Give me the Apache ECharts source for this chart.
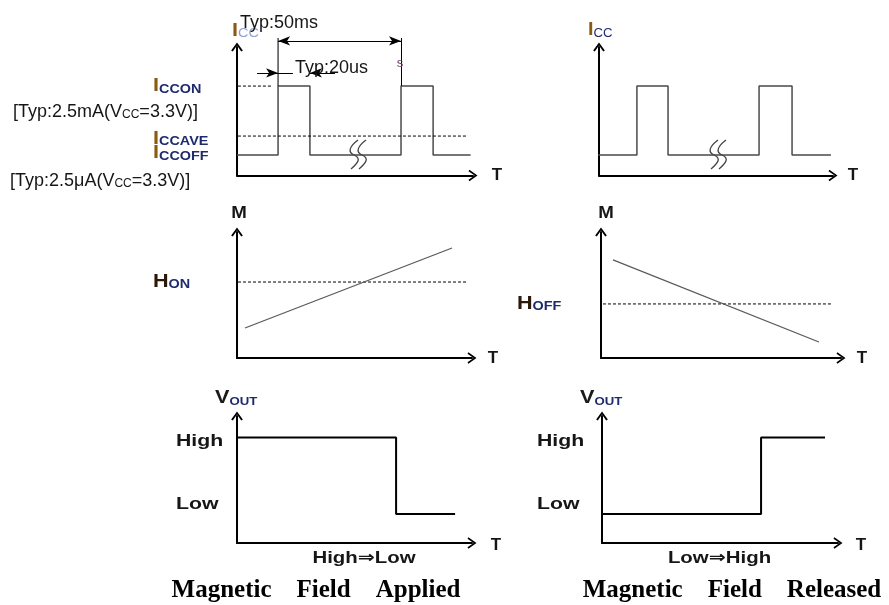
<!DOCTYPE html>
<html><head><meta charset="utf-8">
<script src="https://cdn.jsdelivr.net/npm/echarts@6/dist/echarts.min.js"></script>
<style>html,body{margin:0;padding:0;background:#fff}#c{width:889px;height:605px}</style>
</head><body><div id="c"></div>
<script>
// ---------------- DATA ----------------
// Supply current pulses (time units 0..100 along T axis, current units 0..100 along Icc axis)
const iccAppliedT  = [0, 17.4, 17.4, 30.9, 30.9, 69.5, 69.5, 83.1, 83.1, 99];
const iccReleasedT = [-0.9, 16.2, 16.2, 29.5, 29.5, 68.4, 68.4, 82.5, 82.5, 99.1];
const iccLevel     = [16, 16, 69.6, 69.6, 16, 16, 69.6, 69.6, 16, 16];
const ICC_ON = 69.6, ICC_AVE = 30.7, ICC_OFF = 16;
const refLineStartT = -10.2;          // dashed reference lines start left of axis
const iccOnDashEnd = 14.8, iccAveDashEnd = 97.9;
// timing dimensions
const periodMarks = [17.4, 69.5];     // Typ:50ms
const pulseMarks = [17.4, 30.9];      // Typ:20us
const dimTop = 107, dimPeriodLevel = 104.7, dimPulseLevel = 79.8;
const pulseArrowFrom = [8.5, 41.5], pulseLeaderEnd = 23.7;
// Magnetic flux density
const fieldAppliedT  = [3.4, 91.5];
const fieldAppliedM  = [23.8, 87.3];
const fieldReleasedT = [5, 90.8];
const fieldReleasedM = [77.8, 12.7];
const H_ON = 60.3, H_OFF = 42.9;
const hOnDash = [-10.2, 98.3], hOffDash = [-9.6, 96.3];
// Output voltage
const voutAppliedT  = [0, 67.7, 67.7, 92.8];
const voutAppliedV  = [83, 83, 22.8, 22.8];
const voutReleasedT = [0, 67.4, 67.4, 94.5];
const voutReleasedV = [22.8, 22.8, 83, 83];
// Texts
const captions = ['Magnetic    Field    Applied', 'Magnetic    Field    Released'];
const transitions = ['High\u21D2Low', 'Low\u21D2High'];

// ---------------- HELPERS ----------------
const zip = (a, b) => a.map((v, i) => [v, b[i]]);
const SANS = 'Liberation Sans, Arial, DejaVu Sans, sans-serif';
const CHEV = 'path://M0,9 L6.5,0 L13,9 L11.2,10 L6.5,3.2 L1.8,10 Z';

const grids = [
  {left: 237, top: 47,  right: 416, bottom: 429.5},
  {left: 599, top: 47,  right: 56,  bottom: 429.5},
  {left: 237, top: 232, right: 417, bottom: 247},
  {left: 601, top: 232, right: 48,  bottom: 247},
  {left: 237, top: 416, right: 417, bottom: 62},
  {left: 602, top: 416, right: 51,  bottom: 62},
  // overlay for the timing dimensions of panel 0 (same scale, taller: 0..110)
  {left: 237, top: 34.1, right: 416, bottom: 429.5}
];
const axisMax = [100, 100, 100, 100, 100, 100, 110];
function axis(i, isY) {
  const hidden = i === 6;
  return {
    gridIndex: i, type: 'value', min: 0, max: isY ? axisMax[i] : 100, show: !hidden,
    axisLine: {show: !hidden, onZero: false, symbol: ['none', CHEV], symbolSize: [13, 9],
      lineStyle: {color: '#000', width: 2}},
    axisTick: {show: false}, axisLabel: {show: false}, splitLine: {show: false}
  };
}
function line(i, data, style) {
  return {
    type: 'line', xAxisIndex: i, yAxisIndex: i, data: data, symbol: 'none', showSymbol: false,
    clip: false, silent: true, animation: false, z: 3,
    lineStyle: Object.assign({color: '#4a4a4a', width: 1.5}, style || {})
  };
}
const dash = {color: '#000', width: 1, type: [3, 2]};
const pt = (x, y, sym) => ({coord: [x, y], symbol: sym || 'none'});

const series = [
  line(0, zip(iccAppliedT, iccLevel)),
  line(0, [[refLineStartT, ICC_ON], [iccOnDashEnd, ICC_ON]], dash),
  line(0, [[refLineStartT, ICC_OFF], [0, ICC_OFF]], dash),
  line(0, [[refLineStartT, ICC_AVE], [iccAveDashEnd, ICC_AVE]], dash),
  Object.assign(line(6, [[periodMarks[0], ICC_ON], [periodMarks[0], dimTop]], {color: '#222', width: 1.2}), {
    markLine: {
      silent: true, animation: false, symbolSize: [7, 12],
      label: {show: false},
      lineStyle: {type: 'solid', color: '#000', width: 1},
      emphasis: {disabled: true},
      data: [
        [pt(periodMarks[1], ICC_ON), pt(periodMarks[1], dimTop)],
        [pt(periodMarks[0], dimPeriodLevel, 'arrow'), pt(periodMarks[1], dimPeriodLevel, 'arrow')],
        [pt(pulseArrowFrom[0], dimPulseLevel), pt(pulseMarks[0], dimPulseLevel, 'arrow')],
        [pt(pulseMarks[0], dimPulseLevel), pt(pulseLeaderEnd, dimPulseLevel)],
        [pt(pulseArrowFrom[1], dimPulseLevel), pt(pulseMarks[1], dimPulseLevel, 'arrow')]
      ]
    }
  }),
  line(1, zip(iccReleasedT, iccLevel)),
  line(2, [[hOnDash[0], H_ON], [hOnDash[1], H_ON]], dash),
  line(2, zip(fieldAppliedT, fieldAppliedM), {color: '#5a5a5a', width: 1.3}),
  line(3, [[hOffDash[0], H_OFF], [hOffDash[1], H_OFF]], dash),
  line(3, zip(fieldReleasedT, fieldReleasedM), {color: '#5a5a5a', width: 1.3}),
  line(4, zip(voutAppliedT, voutAppliedV), {color: '#000', width: 2}),
  line(5, zip(voutReleasedT, voutReleasedV), {color: '#000', width: 2})
];

// ---------------- TEXT (graphic) ----------------
const MAINC = '#8c5a12', SUBC = '#1e2a6e', INK = '#161616';
function t(x, y, text, o) {
  o = o || {};
  return {
    type: 'text', x: x, y: y, scaleX: o.sx || 1, z: 10, silent: true,
    style: {
      text: text, x: 0, y: 0,
      fontSize: o.size || 17, fontFamily: o.family || SANS, fontWeight: o.weight || 'normal',
      fill: o.fill || INK, align: o.align || 'left', verticalAlign: 'middle',
      rich: o.rich
    }
  };
}
function sub(main, subTxt, size, subSize, mainColor, subColor, subWeight) {
  return {
    text: '{a|' + main + '}{b|' + subTxt + '}',
    rich: {
      a: {fontSize: size, fontWeight: 'bold', fontFamily: SANS, fill: mainColor, verticalAlign: 'bottom', lineHeight: size},
      b: {fontSize: subSize, fontWeight: subWeight || 'bold', fontFamily: SANS, fill: subColor, verticalAlign: 'bottom', lineHeight: subSize}
    }
  };
}
function lbl(x, y, main, s, o) {
  o = o || {};
  const r = sub(main, s, o.size || 18, o.subSize || 12, o.mainColor || MAINC, o.subColor || SUBC, o.subWeight);
  return t(x, y, r.text, {rich: r.rich, sx: o.sx || 1.2});
}
function vcc(x, y, pre) {
  return t(x, y, '{n|' + pre + '(V}{s|CC}{n|=3.3V)]}', {
    rich: {
      n: {fontSize: 18, fontFamily: SANS, fill: INK, verticalAlign: 'bottom', lineHeight: 18},
      s: {fontSize: 12, fontFamily: SANS, fill: INK, verticalAlign: 'bottom', lineHeight: 12}
    }
  });
}
function brk(dx) {
  const out = [];
  [0, 8].forEach(ox => {
    const b = 358 + ox + dx;
    out.push({
      type: 'bezierCurve', silent: true, z: 5,
      shape: {x1: b, y1: 140, cpx1: b - 8, cpy1: 146, cpx2: b - 11, cpy2: 152, x2: b - 4, y2: 155},
      style: {stroke: '#444', fill: null, lineWidth: 1.3}
    });
    out.push({
      type: 'bezierCurve', silent: true, z: 5,
      shape: {x1: b - 4, y1: 155, cpx1: b + 3, cpy1: 158, cpx2: b + 1, cpy2: 162, x2: b - 7, y2: 169},
      style: {stroke: '#444', fill: null, lineWidth: 1.3}
    });
  });
  return out;
}
const bold = {weight: 'bold', size: 17};
const graphics = [
  // top-left
  lbl(232, 31, 'I', 'CC', {subColor: '#8ea0d0', subWeight: 'normal'}),
  t(240, 23, 'Typ:50ms', {size: 18}),
  t(295, 68, 'Typ:20us', {size: 18}),
  t(400, 63, 's', {size: 13, fill: '#6b3b6b', align: 'center'}),
  lbl(153, 86.5, 'I', 'CCON'),
  vcc(13, 112, '[Typ:2.5mA'),
  lbl(153, 139, 'I', 'CCAVE'),
  lbl(153, 153.5, 'I', 'CCOFF'),
  vcc(10, 181, '[Typ:2.5\u03BCA'),
  t(497, 175, 'T', Object.assign({align: 'center'}, bold)),
  // top-right
  lbl(588, 30.5, 'I', 'CC', {subWeight: 'normal', sx: 1.1}),
  t(853, 175, 'T', Object.assign({align: 'center'}, bold)),
  // middle-left
  t(239, 213, 'M', Object.assign({align: 'center', sx: 1.1}, bold)),
  lbl(153, 282, 'H', 'ON', {mainColor: '#2a1808'}),
  t(493, 358, 'T', Object.assign({align: 'center'}, bold)),
  // middle-right
  t(606, 213, 'M', Object.assign({align: 'center', sx: 1.1}, bold)),
  lbl(517, 304, 'H', 'OFF', {mainColor: '#2a1808'}),
  t(862, 358, 'T', Object.assign({align: 'center'}, bold)),
  // bottom-left
  lbl(215, 398, 'V', 'OUT', {mainColor: '#1a1a1a', subSize: 11}),
  t(176, 441, 'High', Object.assign({sx: 1.25}, bold)),
  t(176, 504, 'Low', Object.assign({sx: 1.25}, bold)),
  t(496, 545, 'T', Object.assign({align: 'center'}, bold)),
  t(364, 558, transitions[0], Object.assign({align: 'center', sx: 1.2}, bold)),
  t(316, 591, captions[0], {align: 'center', size: 25, weight: 'bold', family: 'Liberation Serif, Times New Roman, serif', fill: '#000'}),
  // bottom-right
  lbl(580, 398, 'V', 'OUT', {mainColor: '#1a1a1a', subSize: 11}),
  t(537, 441, 'High', Object.assign({sx: 1.25}, bold)),
  t(537, 504, 'Low', Object.assign({sx: 1.25}, bold)),
  t(861, 545, 'T', Object.assign({align: 'center'}, bold)),
  t(719.5, 558, transitions[1], Object.assign({align: 'center', sx: 1.2}, bold)),
  t(732, 591, captions[1], {align: 'center', size: 25, weight: 'bold', family: 'Liberation Serif, Times New Roman, serif', fill: '#000'})
].concat(brk(0), brk(360));

const chart = echarts.init(document.getElementById('c'), null, {renderer: 'canvas'});
chart.setOption({
  animation: false,
  backgroundColor: '#fff',
  grid: grids,
  xAxis: grids.map((g, i) => axis(i, false)),
  yAxis: grids.map((g, i) => axis(i, true)),
  series: series,
  graphic: graphics
});
</script></body></html>
